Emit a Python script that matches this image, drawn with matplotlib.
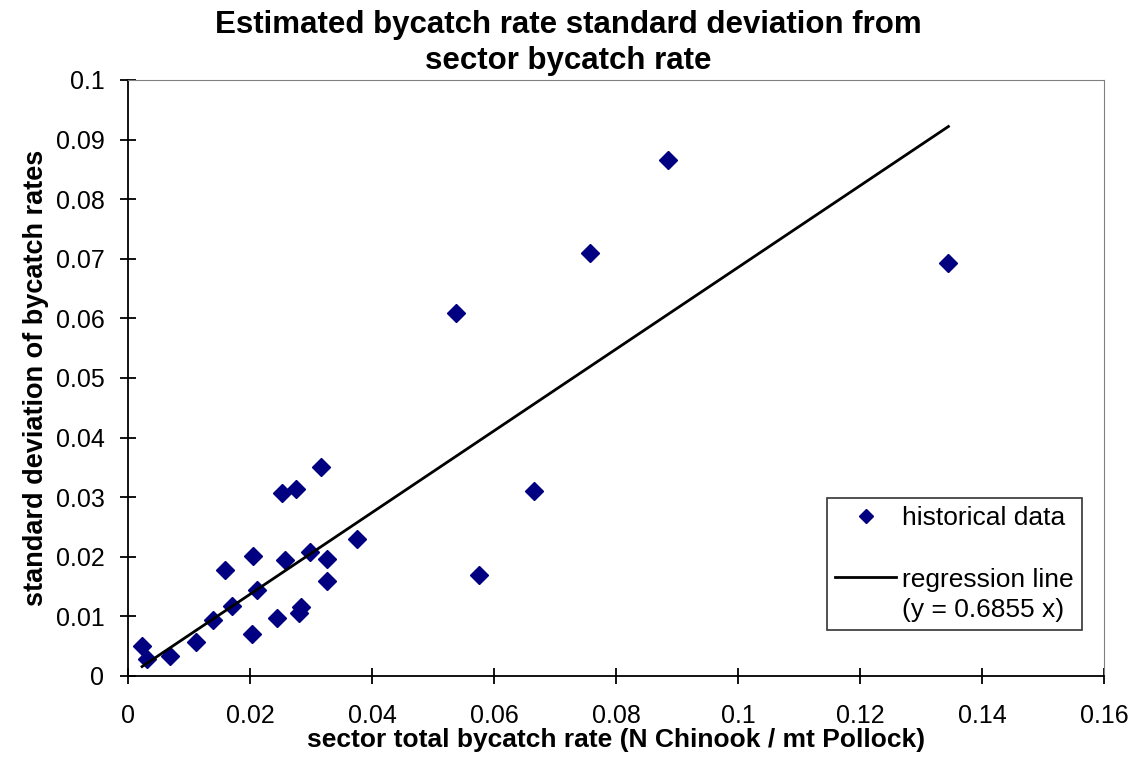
import matplotlib.pyplot as plt
from matplotlib.lines import Line2D

plt.rcParams['font.family'] = ['Liberation Sans', 'DejaVu Sans']

# sector total bycatch rate (N Chinook / mt Pollock)
rate = [0.0023, 0.0031, 0.0068, 0.0112, 0.0139, 0.0159, 0.0171, 0.0204,
        0.0205, 0.0211, 0.0244, 0.0253, 0.0257, 0.0276, 0.0281, 0.0283,
        0.0298, 0.0316, 0.0326, 0.0327, 0.0376, 0.0537, 0.0575, 0.0665,
        0.0757, 0.0886, 0.1345]
# standard deviation of bycatch rates
sd = [0.0050, 0.0029, 0.0034, 0.0057, 0.0094, 0.0178, 0.0117, 0.0070,
      0.0201, 0.0144, 0.0098, 0.0307, 0.0195, 0.0313, 0.0106, 0.0116,
      0.0208, 0.0350, 0.0196, 0.0159, 0.0229, 0.0609, 0.0169, 0.0310,
      0.0710, 0.0866, 0.0693]
slope = 0.6855

x_ticks = [0, 0.02, 0.04, 0.06, 0.08, 0.1, 0.12, 0.14, 0.16]
x_labels = ['0', '0.02', '0.04', '0.06', '0.08', '0.1', '0.12', '0.14', '0.16']
y_ticks = [0, 0.01, 0.02, 0.03, 0.04, 0.05, 0.06, 0.07, 0.08, 0.09, 0.1]
y_labels = ['0', '0.01', '0.02', '0.03', '0.04', '0.05', '0.06', '0.07',
            '0.08', '0.09', '0.1']

fig = plt.figure(figsize=(11.36, 7.59), dpi=100)
ax = fig.add_axes([0.1127, 0.1094, 0.8591, 0.7852])

ax.plot(rate, sd, linestyle='none', marker='D', markersize=9,
        color='#000080')
x_fit = [min(rate), max(rate)]
ax.plot(x_fit, [slope * v for v in x_fit], color='black', linewidth=2)

ax.set_xlim(0, 0.16)
ax.set_ylim(0, 0.1)
ax.set_xticks(x_ticks)
ax.set_xticklabels(x_labels)
ax.set_yticks(y_ticks)
ax.set_yticklabels(y_labels)
ax.tick_params(direction='inout', length=12, width=1.3, labelsize=18)
ax.tick_params(axis='x', pad=14)
ax.tick_params(axis='y', pad=11)

for s in ['top', 'right']:
    ax.spines[s].set_color('#808080')
for s in ['left', 'bottom']:
    ax.spines[s].set_linewidth(1.3)

ax.set_xlabel('sector total bycatch rate (N Chinook / mt Pollock)',
              fontsize=19, fontweight='bold', labelpad=0)
ax.set_ylabel('standard deviation of bycatch rates',
              fontsize=19.5, fontweight='bold', labelpad=5)
fig.text(0.5, 1 - 43 / 759,
         'Estimated bycatch rate standard deviation from\nsector bycatch rate',
         fontsize=22.5, fontweight='bold', ha='center', va='center',
         linespacing=1.3)

# legend with a blank row between the two entries
blank = Line2D([], [], linestyle='none')
handles = [Line2D([], [], linestyle='none', marker='D', markersize=7.5, color='#000080'),
           blank,
           Line2D([], [], color='black', linewidth=2),
           blank]
labels = ['historical data', ' ', 'regression line', '(y = 0.6855 x)']
leg = ax.legend(handles, labels, loc='lower right',
                bbox_to_anchor=(0.9775, 0.077), borderaxespad=0,
                fontsize=19, frameon=True, fancybox=False, edgecolor='black',
                labelspacing=0.25, handlelength=2.3, handletextpad=0.25,
                borderpad=0.3)
leg.get_frame().set_linewidth(1.2)

fig.savefig('out.png', dpi=100)
